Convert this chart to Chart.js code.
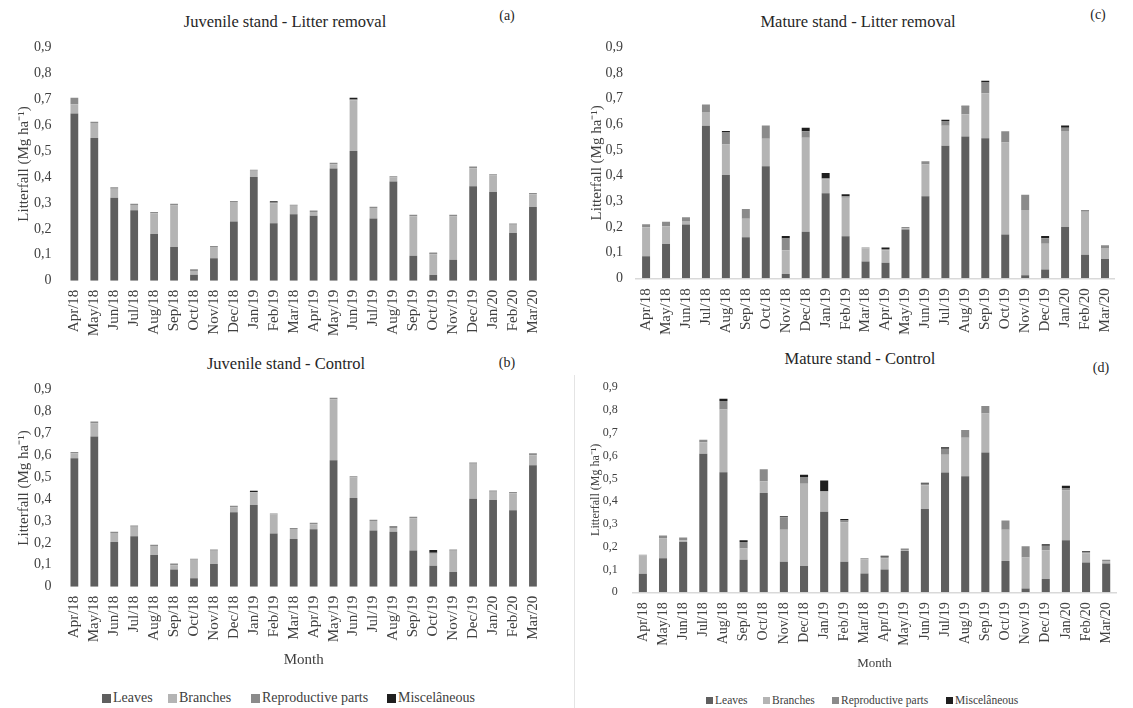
<!DOCTYPE html>
<html>
<head>
<meta charset="utf-8">
<script src="https://cdn.jsdelivr.net/npm/chart.js@4.4.0/dist/chart.umd.min.js"></script>
<style>
  html, body { margin: 0; padding: 0; background: #fff; overflow: hidden; }
  body { width: 1133px; height: 708px; position: relative; font-family: "Liberation Serif", "Times New Roman", serif; color: #262626; }
  canvas { position: absolute; }
  .title { position: absolute; transform: translate(-50%, -50%); font-size: 16.5px; white-space: nowrap; }
  .tag { position: absolute; transform: translate(-50%, -50%); font-size: 14px; white-space: nowrap; }
  .lg { position: absolute; transform: translateY(-50%); white-space: nowrap; display: flex; align-items: center; color: #404040; }
  .lg i { display: inline-block; margin-right: 2px; }
  .sep { position: absolute; left: 574px; top: 375px; width: 1px; height: 333px; background: #e4e4e4; }
</style>
</head>
<body>
<div class="sep"></div>

<div class="title" style="left:285px;top:22px">Juvenile stand - Litter removal</div>
<div class="tag" style="left:507px;top:16px">(a)</div>
<div class="title" style="left:858px;top:22px">Mature stand - Litter removal</div>
<div class="tag" style="left:1098px;top:15px">(c)</div>
<div class="title" style="left:286px;top:364px">Juvenile stand - Control</div>
<div class="tag" style="left:507px;top:363px">(b)</div>
<div class="title" style="left:860px;top:359px">Mature stand - Control</div>
<div class="tag" style="left:1101px;top:368px">(d)</div>

<canvas id="chartA" width="560" height="345" style="left:0;top:0"></canvas>
<canvas id="chartC" width="573" height="345" style="left:560px;top:0"></canvas>
<canvas id="chartB" width="560" height="328" style="left:0;top:345px"></canvas>
<canvas id="chartD" width="573" height="330" style="left:560px;top:345px"></canvas>

<div id="legendB"></div>
<div id="legendD"></div>

<script>
const months = ['Apr/18','May/18','Jun/18','Jul/18','Aug/18','Sep/18','Oct/18','Nov/18','Dec/18','Jan/19','Feb/19','Mar/18',
  'Apr/19','May/19','Jun/19','Jul/19','Aug/19','Sep/19','Oct/19','Nov/19','Dec/19','Jan/20','Feb/20','Mar/20'];
const parts = ['Leaves', 'Branches', 'Reproductive parts', 'Miscelâneous'];
const partColors = ['#5f5f5f', '#b4b4b4', '#8b8b8b', '#1f1f1f'];
const yTicks = [0, 0.1, 0.2, 0.3, 0.4, 0.5, 0.6, 0.7, 0.8, 0.9];

// (a) Juvenile stand - Litter removal
const juvRemLeaves   = [0.645,0.550,0.320,0.272,0.180,0.130,0.023,0.087,0.228,0.400,0.222,0.256,0.250,0.433,0.500,0.240,0.383,0.096,0.022,0.081,0.364,0.342,0.184,0.284];
const juvRemBranches = [0.035,0.058,0.035,0.020,0.080,0.160,0.014,0.043,0.075,0.024,0.077,0.033,0.015,0.016,0.196,0.040,0.015,0.153,0.080,0.167,0.070,0.064,0.032,0.049];
const juvRemRepro    = [0.025,0.005,0.005,0.005,0.005,0.007,0.007,0.004,0.004,0.004,0.003,0.004,0.006,0.006,0.003,0.005,0.005,0.005,0.003,0.006,0.006,0.004,0.005,0.005];
const juvRemMisc     = [0,0,0,0,0,0,0,0,0,0,0.004,0,0,0,0.006,0,0,0,0.003,0,0,0,0,0];

// (b) Juvenile stand - Control
const juvCtlLeaves   = [0.586,0.685,0.204,0.230,0.144,0.078,0.038,0.103,0.340,0.372,0.243,0.217,0.262,0.576,0.404,0.256,0.250,0.165,0.096,0.067,0.401,0.395,0.348,0.554];
const juvCtlBranches = [0.022,0.059,0.041,0.043,0.041,0.020,0.085,0.061,0.021,0.057,0.086,0.046,0.023,0.279,0.094,0.043,0.018,0.147,0.054,0.097,0.159,0.038,0.078,0.045];
const juvCtlRepro    = [0.006,0.009,0.006,0.006,0.006,0.008,0.004,0.006,0.008,0.003,0.005,0.005,0.006,0.006,0.006,0.006,0.009,0.007,0.005,0.006,0.006,0.006,0.006,0.009];
const juvCtlMisc     = [0,0,0,0,0,0,0,0,0,0.006,0,0,0,0,0,0,0,0,0.012,0,0,0,0,0];

// (c) Mature stand - Litter removal
const matRemLeaves   = [0.086,0.134,0.210,0.594,0.402,0.160,0.437,0.017,0.181,0.331,0.164,0.065,0.061,0.190,0.320,0.516,0.552,0.546,0.171,0.012,0.034,0.200,0.092,0.075];
const matRemBranches = [0.113,0.069,0.013,0.054,0.119,0.072,0.107,0.092,0.367,0.054,0.150,0.052,0.048,0.004,0.123,0.078,0.087,0.175,0.358,0.254,0.101,0.374,0.167,0.043];
const matRemRepro    = [0.012,0.017,0.015,0.029,0.047,0.038,0.051,0.046,0.025,0.005,0.006,0.003,0.005,0.006,0.013,0.019,0.030,0.042,0.044,0.060,0.021,0.013,0.007,0.011];
const matRemMisc     = [0,0,0,0,0.006,0,0,0.010,0.014,0.020,0.007,0,0.006,0,0,0.005,0.003,0.007,0,0,0.009,0.008,0,0];

// (d) Mature stand - Control
const matCtlLeaves   = [0.081,0.149,0.221,0.608,0.527,0.143,0.436,0.134,0.116,0.354,0.134,0.082,0.100,0.181,0.366,0.526,0.509,0.614,0.137,0.017,0.058,0.228,0.131,0.126];
const matCtlBranches = [0.081,0.087,0.007,0.051,0.275,0.049,0.051,0.141,0.361,0.087,0.174,0.063,0.050,0.005,0.104,0.078,0.169,0.171,0.138,0.136,0.127,0.219,0.040,0.011];
const matCtlRepro    = [0.003,0.013,0.013,0.011,0.038,0.029,0.053,0.055,0.029,0.004,0.007,0.005,0.006,0.006,0.007,0.026,0.034,0.033,0.040,0.049,0.019,0.011,0.005,0.006];
const matCtlMisc     = [0,0,0,0,0.010,0.007,0,0.004,0.010,0.046,0.007,0,0.004,0,0.004,0.007,0,0,0,0,0.007,0.010,0.004,0];

const FONT = '"Liberation Serif", "Times New Roman", serif';

function fmt(v) {
  const r = Math.round(v * 10) / 10;
  return r === 0 ? '0' : r.toFixed(1).replace('.', ',');
}

function drawPanel(id, series, p) {
  const ctx = document.getElementById(id).getContext('2d');
  new Chart(ctx, {
    type: 'bar',
    data: {
      labels: months,
      datasets: series.map((d, i) => ({
        label: parts[i],
        data: d,
        backgroundColor: partColors[i],
        borderWidth: 0,
        barPercentage: p.bar,
        categoryPercentage: 1
      }))
    },
    options: {
      responsive: false,
      animation: false,
      layout: { padding: { top: p.top, right: p.right, left: 0, bottom: 0 } },
      plugins: { legend: { display: false }, title: { display: false }, tooltip: { enabled: false } },
      scales: {
        x: {
          stacked: true,
          grid: { display: false, drawTicks: false },
          border: { display: p.axisLine, color: '#d9d9d9', width: 1.5 },
          ticks: {
            autoSkip: false, maxRotation: 90, minRotation: 90,
            padding: p.xPad, color: '#404040',
            font: { family: FONT, size: p.xFont }
          },
          title: {
            display: p.month, text: 'Month', color: '#404040',
            padding: { top: 0, bottom: 4 },
            font: { family: FONT, size: p.monthFont || 15 }
          },
          afterFit: s => { s.height = p.xh; }
        },
        y: {
          stacked: true,
          min: 0, max: 0.9,
          afterBuildTicks: s => { s.ticks = yTicks.map(v => ({ value: v })); },
          grid: { display: false, drawTicks: false },
          border: { display: false },
          ticks: { padding: p.yPad, color: '#404040', callback: fmt, font: { family: FONT, size: p.yFont } },
          title: {
            display: true, text: 'Litterfall (Mg ha⁻¹)', color: '#404040',
            padding: { top: p.yTitlePad, bottom: 0 },
            font: { family: FONT, size: p.yTitleFont }
          },
          afterFit: s => { s.width = p.yw; }
        }
      }
    }
  });
}

drawPanel('chartA', [juvRemLeaves, juvRemBranches, juvRemRepro, juvRemMisc],
  { top: 47.3, right: 2.4, yw: 64.4, xh: 64.3, bar: 0.39, axisLine: false, xPad: 9, xFont: 15, yFont: 14, yPad: 13, yTitleFont: 15, yTitlePad: 15, month: false });
drawPanel('chartC', [matRemLeaves, matRemBranches, matRemRepro, matRemMisc],
  { top: 47.3, right: 0, yw: 76.1, xh: 66.7, bar: 0.4, axisLine: true, xPad: 10, xFont: 15, yFont: 14, yPad: 13, yTitleFont: 15, yTitlePad: 28, month: false });
drawPanel('chartB', [juvCtlLeaves, juvCtlBranches, juvCtlRepro, juvCtlMisc],
  { top: 44.3, right: 2.4, yw: 64.4, xh: 86.3, bar: 0.39, axisLine: false, xPad: 9, xFont: 15, yFont: 14, yPad: 13, yTitleFont: 15, yTitlePad: 15, month: true, monthFont: 15 });
drawPanel('chartD', [matCtlLeaves, matCtlBranches, matCtlRepro, matCtlMisc],
  { top: 42.3, right: 0, yw: 72.8, xh: 82.7, bar: 0.4, axisLine: true, xPad: 10, xFont: 14, yFont: 12, yPad: 15, yTitleFont: 12, yTitlePad: 29, month: true, monthFont: 13 });

function buildLegend(id, xs, y, size, box) {
  const host = document.getElementById(id);
  parts.forEach((name, i) => {
    const el = document.createElement('div');
    el.className = 'lg';
    el.style.left = xs[i] + 'px';
    el.style.top = y + 'px';
    el.style.fontSize = size + 'px';
    el.innerHTML = '<i style="width:' + box + 'px;height:' + box + 'px;background:' + partColors[i] + '"></i>' + name;
    host.appendChild(el);
  });
}
buildLegend('legendB', [102, 168, 251, 387], 698, 14, 9);
buildLegend('legendD', [706, 763, 832, 946], 700, 11.5, 7);
</script>
</body>
</html>
